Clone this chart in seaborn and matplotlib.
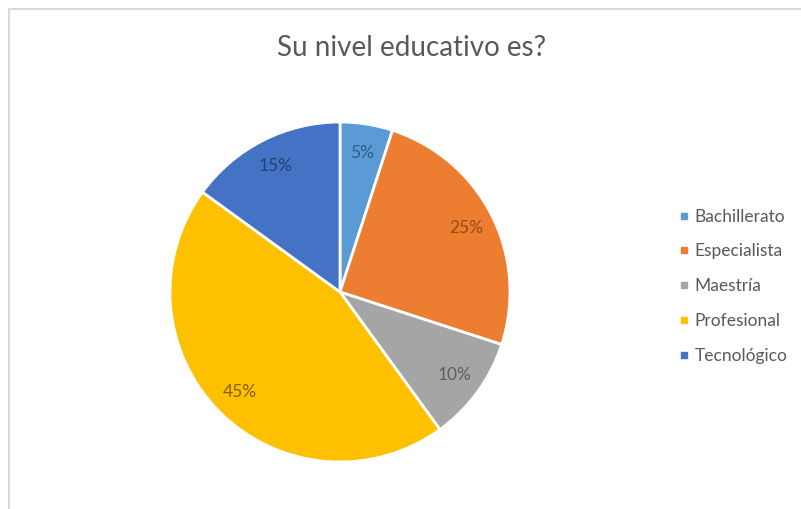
import matplotlib.pyplot as plt
import seaborn as sns
from matplotlib.lines import Line2D

categories = ['Bachillerato', 'Especialista', 'Maestría', 'Profesional', 'Tecnológico']
values = [5, 25, 10, 45, 15]
slice_colors = ['#5B9BD5', '#ED7D31', '#A5A5A5', '#FFC000', '#4472C4']
label_colors = ['#2E5C8A', '#9A4A12', '#5E5E5E', '#806000', '#23407A']

sns.set_theme(style='white')
plt.rcParams['font.family'] = ['Lato', 'DejaVu Sans']

fig = plt.figure(figsize=(8.01, 5.09), dpi=100)
W, H = 801, 509

# pie centred at ~(340, 292) px with radius ~170 px
cx, cy, r = 340, 292, 170
ax = fig.add_axes([(cx - r) / W, (H - cy - r) / H, 2 * r / W, 2 * r / H])

palette = sns.color_palette(slice_colors)
wedges, texts, autotexts = ax.pie(
    values, colors=palette, startangle=90, counterclock=False,
    autopct='%1.0f%%', pctdistance=0.83,
    wedgeprops=dict(edgecolor='white', linewidth=2),
    textprops=dict(fontsize=12.5))
for t, c in zip(autotexts, label_colors):
    t.set_color(c)
for w in wedges:
    w.set_clip_on(False)
ax.set_xlim(-1, 1)
ax.set_ylim(-1, 1)
ax.set_aspect('equal')
ax.axis('off')

fig.text(412 / W, 1 - 48 / H, 'Su nivel educativo es?', ha='center', va='center',
         fontsize=20, color='#595959')

handles = [Line2D([0], [0], marker='s', linestyle='none', markersize=5,
                  markerfacecolor=c, markeredgecolor=c) for c in slice_colors]
fig.legend(handles, categories, loc='upper left',
           bbox_to_anchor=(671 / W, 1 - 200 / H), frameon=False,
           fontsize=12.5, labelcolor='#595959', handlelength=0.5,
           handletextpad=0.35, labelspacing=1.08, borderpad=0)

# chart frame (only top and left edges visible in the crop)
fig.add_artist(Line2D([9 / W, 1], [1 - 9 / H, 1 - 9 / H], transform=fig.transFigure,
                      color='#d9d9d9', linewidth=1.5))
fig.add_artist(Line2D([9 / W, 9 / W], [0, 1 - 9 / H], transform=fig.transFigure,
                      color='#d9d9d9', linewidth=1.5))

fig.savefig('out.png', dpi=100, facecolor='white')
